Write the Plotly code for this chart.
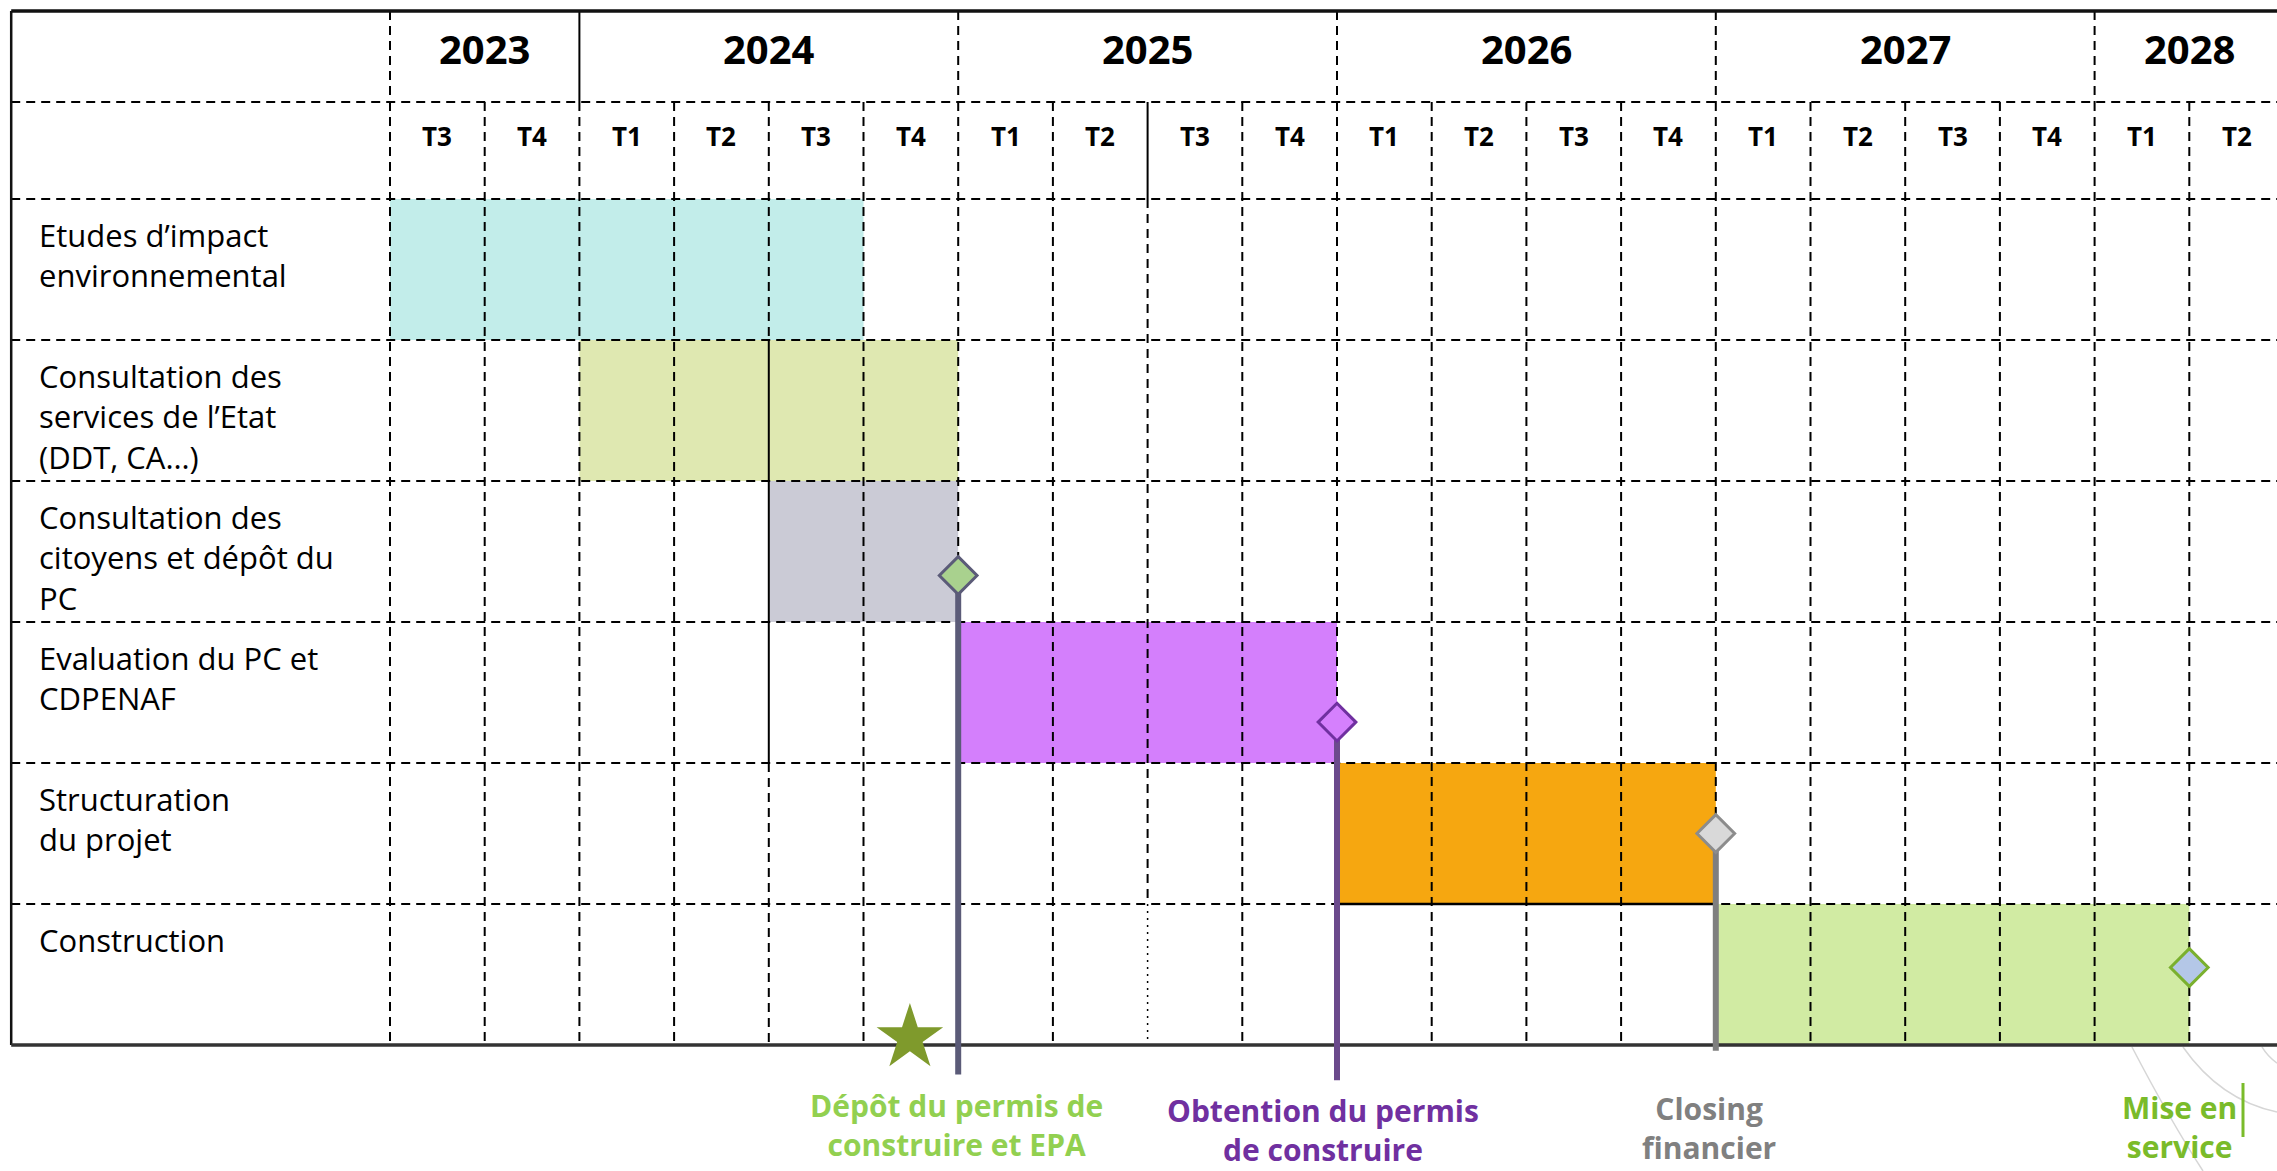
import plotly.graph_objects as go

# ---------------- data ----------------
years = ["2023", "2024", "2025", "2026", "2027", "2028"]
year_quarters = [["T3", "T4"], ["T1", "T2", "T3", "T4"], ["T1", "T2", "T3", "T4"],
                 ["T1", "T2", "T3", "T4"], ["T1", "T2", "T3", "T4"], ["T1", "T2"]]

tasks = ["Etudes d’impact<br>environnemental",
         "Consultation des<br>services de l’Etat<br>(DDT, CA…)",
         "Consultation des<br>citoyens et dépôt du<br>PC",
         "Evaluation du PC et<br>CDPENAF",
         "Structuration<br>du projet",
         "Construction"]
task_start = ["2023 T3", "2024 T1", "2024 T3", "2025 T1", "2026 T1", "2027 T1"]
task_end = ["2024 T3", "2024 T4", "2024 T4", "2025 T4", "2026 T4", "2028 T1"]
task_colors = ["#C2EDEA", "#DFE8B1", "#CBCBD6", "#D47FFC", "#F6A710", "#D1EBA3"]

milestones = ["Dépôt du permis de<br>construire et EPA",
              "Obtention du permis<br>de construire",
              "Closing<br>financier",
              "Mise en<br>service"]
milestone_end = ["2024 T4", "2025 T4", "2026 T4", "2028 T1"]
milestone_row = [2, 3, 4, 5]
star_quarter = "2024 T4"

# ---------------- styles ----------------
ms_fill = ["#A9D18E", "#D580FD", "#D9D9D9", "#B4C7E7"]
ms_stroke = ["#5B5B78", "#7030A0", "#8C8C8C", "#7AB02E"]
ms_line = ["#5B5B78", "#6B4A8C", "#7F7F7F", None]
ms_text_col = ["#92D050", "#7030A0", "#808080", "#7ABB2A"]
ms_y_in_row = [0.67, 0.71, 0.50, 0.45]
ms_line_end = [6.21, 6.25, 6.04, None]
ms_text_dx = [-0.02, -0.15, -0.07, -0.10]
ms_text_y = [6.57, 6.60, 6.59, 6.58]

FONT = "Open Sans"
q_keys = [f"{y} {q}" for y, qs in zip(years, year_quarters) for q in qs]
q_idx = {k: i for i, k in enumerate(q_keys)}
nq = len(q_keys)

ROW_PX = 141.0
Y_TOP = -1.333
Y_HDR = -0.688
X_LEFT = -4.0
X_RIGHT = nq + 0.5
n_rows = len(tasks)

fig = go.Figure()

# bars
starts = [q_idx[s] for s in task_start]
durs = [q_idx[e] + 1 - q_idx[s] for s, e in zip(task_start, task_end)]
fig.add_trace(go.Bar(orientation="h", y=[i + 0.5 for i in range(n_rows)], x=durs, base=starts,
                     width=1.0, marker=dict(color=task_colors, line=dict(width=0)),
                     hoverinfo="skip", showlegend=False))


def segs(lst):
    xs, ys = [], []
    for (x0, y0, x1, y1) in lst:
        xs += [x0, x1, None]
        ys += [y0, y1, None]
    return xs, ys


def add_lines(lst, color, width, dash="solid"):
    xs, ys = segs(lst)
    fig.add_trace(go.Scatter(x=xs, y=ys, mode="lines", line=dict(color=color, width=width, dash=dash),
                             hoverinfo="skip", showlegend=False))


DASH = "9px,6px"
# horizontal dashed grid
h_dash = [(X_LEFT, Y_HDR, X_RIGHT, Y_HDR)] + [(X_LEFT, r, X_RIGHT, r) for r in range(n_rows)]
add_lines(h_dash, "#000000", 2, DASH)

# year boundaries in the year row
year_bounds = []
acc = 0
for qs in year_quarters:
    year_bounds.append(acc)
    acc += len(qs)
year_dash = [(b, Y_TOP, b, Y_HDR) for b in year_bounds if b != 2]
add_lines(year_dash, "#000000", 2, DASH)
add_lines([(2, Y_TOP, 2, Y_HDR)], "#000000", 2)

# quarter boundaries
v_dash = []
for k in range(nq):
    if k == 8:
        v_dash.append((k, 0, k, 5))
    elif k == 4:
        v_dash.append((k, Y_HDR, k, 1))
        v_dash.append((k, 4, k, n_rows))
    else:
        v_dash.append((k, Y_HDR, k, n_rows))
add_lines(v_dash, "#000000", 2, DASH)
add_lines([(8, Y_HDR, 8, 0), (4, 1, 4, 4)], "#000000", 2)
add_lines([(8, 5, 8, 6)], "#000000", 1.5, "2px,5px")
add_lines([(10, 5, 14, 5)], "#000000", 2.5)

# borders
add_lines([(X_LEFT, Y_TOP, X_RIGHT, Y_TOP)], "#111111", 3.5)
add_lines([(X_LEFT, Y_TOP, X_LEFT, n_rows)], "#111111", 2.5)
add_lines([(X_LEFT, n_rows, X_RIGHT, n_rows)], "#333333", 3.5)

# milestone stems
for i, name in enumerate(milestones):
    if ms_line[i] is None:
        continue
    x = q_idx[milestone_end[i]] + 1
    y = milestone_row[i] + ms_y_in_row[i]
    fig.add_trace(go.Scatter(x=[x, x], y=[y, ms_line_end[i]], mode="lines",
                             line=dict(color=ms_line[i], width=6), hoverinfo="skip", showlegend=False))

# milestone diamonds + labels
for i, name in enumerate(milestones):
    x = q_idx[milestone_end[i]] + 1
    y = milestone_row[i] + ms_y_in_row[i]
    fig.add_trace(go.Scatter(x=[x], y=[y], mode="markers",
                             marker=dict(symbol="diamond", size=29, color=ms_fill[i],
                                         line=dict(color=ms_stroke[i], width=3)),
                             hoverinfo="skip", showlegend=False))
    fig.add_annotation(x=x + ms_text_dx[i], y=ms_text_y[i], text=name, showarrow=False,
                       xanchor="center", yanchor="middle", align="center",
                       font=dict(family=FONT, size=30, color=ms_text_col[i], weight="bold"))

# star
fig.add_trace(go.Scatter(x=[q_idx[star_quarter] + 0.49], y=[n_rows - 0.05], mode="markers",
                         marker=dict(symbol="star", size=50, color="#7F9A2C", line=dict(width=0)),
                         hoverinfo="skip", showlegend=False))

# headers
for y, qs, b in zip(years, year_quarters, year_bounds):
    fig.add_annotation(x=b + len(qs) / 2, y=-1.07, text=f"<b>{y}</b>", showarrow=False,
                       xanchor="center", yanchor="middle",
                       font=dict(family=FONT, size=40, color="#000000"))
for k, key in enumerate(q_keys):
    fig.add_annotation(x=k + 0.5, y=-0.445, text=f"<b>{key.split()[1]}</b>", showarrow=False,
                       xanchor="center", yanchor="middle",
                       font=dict(family=FONT, size=26, color="#000000"))

# task labels
TSIZE = 31
for i, t in enumerate(tasks):
    fig.add_annotation(x=-3.72, y=i + (34 - 0.65 * TSIZE) / ROW_PX, text=t, showarrow=False,
                       xanchor="left", yanchor="top", align="left", borderpad=0,
                       font=dict(family=FONT, size=TSIZE, color="#000000"))

# "Mise en" cursor bar and faint decorative arcs
fig.add_shape(type="line", xref="paper", yref="paper", x0=2243 / 2277, x1=2243 / 2277,
              y0=1 - 1083 / 1171, y1=1 - 1137 / 1171, line=dict(color="#7ABB2A", width=3))


def px_path(pts):
    (ax, ay), (cx, cy), (bx, by) = pts
    f = lambda a, b: f"{a / 2277:.4f} {1 - b / 1171:.4f}"
    return f"M {f(ax, ay)} Q {f(cx, cy)} {f(bx, by)}"


for pts in [((2132, 1047), (2170, 1120), (2203, 1171)),
            ((2183, 1047), (2220, 1100), (2277, 1112)),
            ((2262, 1047), (2268, 1057), (2277, 1063))]:
    fig.add_shape(type="path", xref="paper", yref="paper", path=px_path(pts),
                  line=dict(color="#D6D6D6", width=1.5), layer="below")

fig.update_layout(width=2277, height=1171, margin=dict(l=0, r=0, t=0, b=0),
                  paper_bgcolor="white", plot_bgcolor="white", showlegend=False, barmode="overlay",
                  xaxis=dict(range=[-390 / 94.7, (2277 - 390) / 94.7], visible=False, fixedrange=True),
                  yaxis=dict(range=[(1171 - 199) / ROW_PX, -199 / ROW_PX], visible=False, fixedrange=True))

fig.write_html("out.html", config={"displayModeBar": False},
               post_script="document.body.style.margin='0';document.body.style.overflow='hidden';")
